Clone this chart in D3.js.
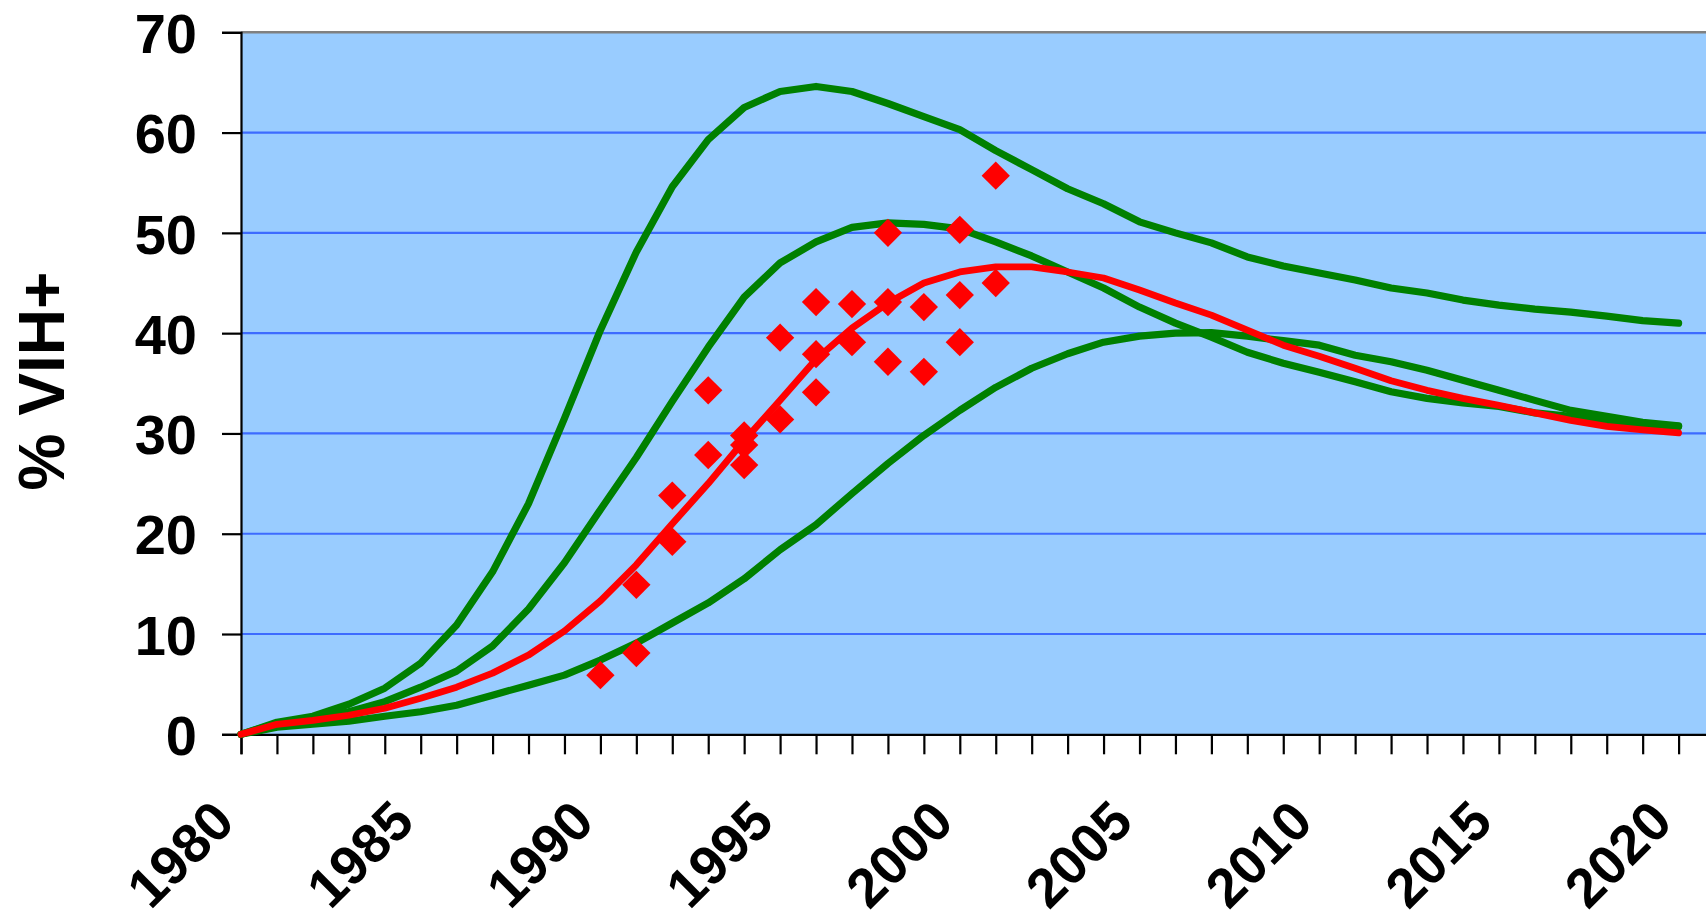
<!DOCTYPE html>
<html>
<head>
<meta charset="utf-8">
<script src="https://cdn.jsdelivr.net/npm/d3@7"></script>
<style>
  html, body { margin: 0; padding: 0; background: #ffffff; }
  svg { display: block; }
  text { font-family: "Liberation Sans", Arial, Helvetica, sans-serif; font-weight: bold; fill: #000; }
</style>
</head>
<body>
<svg id="chart" width="1706" height="919"></svg>
<script>
// ---- data ----
const years = d3.range(1980, 2021);
const xTickLabels = ["1980", "1985", "1990", "1995", "2000", "2005", "2010", "2015", "2020"];
const yTickValues = [0, 10, 20, 30, 40, 50, 60, 70];
const yAxisTitle = "% VIH+";

const highScenario = [0, 1.2, 1.8, 3.0, 4.6, 7.1, 10.9, 16.2, 23.0, 31.5,
  40.3, 48.1, 54.6, 59.3, 62.5, 64.1, 64.6, 64.1, 62.9, 61.6,
  60.3, 58.2, 56.3, 54.4, 52.9, 51.1, 50.0, 49.0, 47.6, 46.7,
  46.0, 45.3, 44.5, 44.0, 43.3, 42.8, 42.4, 42.1, 41.7, 41.25, 41.0];

const midScenario = [0, 1.1, 1.6, 2.25, 3.26, 4.7, 6.3, 8.8, 12.5, 17.1,
  22.4, 27.6, 33.2, 38.6, 43.6, 47.0, 49.1, 50.55, 51.0, 50.85,
  50.4, 49.1, 47.7, 46.1, 44.5, 42.6, 41.0, 39.6, 38.1, 37.0,
  36.1, 35.15, 34.15, 33.5, 33.05, 32.7, 32.05, 31.7, 31.3, 30.95, 30.7];

const lowScenario = [0, 0.7, 1.0, 1.3, 1.8, 2.25, 2.9, 3.9, 4.9, 5.9,
  7.4, 9.1, 11.1, 13.1, 15.5, 18.4, 20.9, 24.0, 27.0, 29.8,
  32.3, 34.6, 36.5, 37.95, 39.1, 39.7, 40.0, 40.05, 39.7, 39.25,
  38.8, 37.8, 37.15, 36.3, 35.3, 34.3, 33.3, 32.3, 31.7, 31.1, 30.75];

const fitted = [0, 1.0, 1.4, 1.9, 2.6, 3.6, 4.7, 6.1, 7.9, 10.3,
  13.3, 16.9, 21.0, 25.0, 29.3, 33.3, 37.4, 40.5, 43.0, 45.0,
  46.1, 46.6, 46.6, 46.1, 45.5, 44.3, 43.0, 41.8, 40.3, 38.8,
  37.7, 36.5, 35.25, 34.3, 33.5, 32.8, 32.05, 31.3, 30.7, 30.35, 30.05];

const obsYears = [1990, 1991, 1991, 1992, 1992, 1993, 1993, 1994, 1994, 1994,
  1995, 1995, 1996, 1996, 1996, 1997, 1997, 1998, 1998, 1998,
  1999, 1999, 2000, 2000, 2000, 2001, 2001];
const obsValues = [5.9, 8.1, 14.9, 19.2, 23.8, 27.85, 34.3, 26.85, 28.85, 29.8,
  31.4, 39.55, 34.1, 37.9, 43.1, 39.1, 42.9, 37.15, 43.1, 50.0,
  36.15, 42.6, 39.1, 43.8, 50.3, 45.0, 55.7];

// ---- layout ----
const svg = d3.select("#chart");
const plotLeft = 241, plotTop = 32.3, plotBottom = 734.3;
const pxPerYear = 35.94;
const x = d3.scaleLinear().domain([1980, 2021]).range([plotLeft, plotLeft + 41 * pxPerYear]);
const y = d3.scaleLinear().domain([0, 70]).range([plotBottom, plotTop]);

// plot background
svg.append("rect")
  .attr("x", plotLeft).attr("y", plotTop)
  .attr("width", x(2021) - plotLeft).attr("height", plotBottom - plotTop)
  .attr("fill", "#99CCFF");

// gridlines
svg.append("g").selectAll("line")
  .data(yTickValues.filter(v => v > 0 && v < 70))
  .join("line")
  .attr("x1", plotLeft).attr("x2", x(2021))
  .attr("y1", d => y(d)).attr("y2", d => y(d))
  .attr("stroke", "#3D6BFF").attr("stroke-width", 2.2);

// top border
svg.append("line")
  .attr("x1", plotLeft).attr("x2", x(2021))
  .attr("y1", y(70)).attr("y2", y(70))
  .attr("stroke", "#808080").attr("stroke-width", 2.4);

// y axis
const yAxis = d3.axisLeft(y).tickValues(yTickValues).tickSize(19).tickPadding(25).tickFormat(d3.format("d"));
const gy = svg.append("g").attr("transform", `translate(${plotLeft},0)`).call(yAxis);
gy.select(".domain").attr("stroke", "#000").attr("stroke-width", 2.2);
gy.selectAll(".tick line").attr("stroke", "#000").attr("stroke-width", 2.2);
gy.selectAll(".tick text")
  .style("font-size", "56px")
  .style("font-family", "'Liberation Sans', Arial, sans-serif")
  .style("font-weight", "bold")
  .attr("fill", "#000")
  .attr("dy", "0.36em");

// x axis
const xAxis = d3.axisBottom(x).tickValues(years).tickSize(20).tickFormat("");
const gx = svg.append("g").attr("transform", `translate(0,${plotBottom})`).call(xAxis);
gx.select(".domain").attr("stroke", "#000").attr("stroke-width", 2.2);
gx.selectAll(".tick line").attr("stroke", "#000").attr("stroke-width", 2.2);

// x tick labels
svg.append("g").selectAll("text")
  .data(xTickLabels)
  .join("text")
  .attr("transform", d => `translate(${x(+d) - 4},${plotBottom + 90}) rotate(-45)`)
  .attr("text-anchor", "end")
  .style("font-size", "55px")
  .text(d => d);

// y axis title
svg.append("text")
  .attr("transform", `translate(64,381) rotate(-90)`)
  .attr("text-anchor", "middle")
  .style("font-size", "64px")
  .text(yAxisTitle);

// lines
const line = d3.line().x((d, i) => x(years[i])).y(d => y(d));
const greenSeries = [highScenario, midScenario, lowScenario];
svg.append("g").selectAll("path")
  .data(greenSeries)
  .join("path")
  .attr("d", d => line(d))
  .attr("fill", "none")
  .attr("stroke", "#008000")
  .attr("stroke-width", 7.2)
  .attr("stroke-linejoin", "round")
  .attr("stroke-linecap", "round");

svg.append("path")
  .attr("d", line(fitted))
  .attr("fill", "none")
  .attr("stroke", "#FF0000")
  .attr("stroke-width", 6.8)
  .attr("stroke-linejoin", "round")
  .attr("stroke-linecap", "round");

// observation markers (diamonds)
const diamond = d3.symbol().type(d3.symbolSquare).size(400);
svg.append("g").selectAll("path")
  .data(obsValues.map((v, i) => ({ yr: obsYears[i], v })))
  .join("path")
  .attr("d", diamond())
  .attr("transform", d => `translate(${x(d.yr)},${y(d.v)}) rotate(45)`)
  .attr("fill", "#FF0000");
</script>
</body>
</html>
